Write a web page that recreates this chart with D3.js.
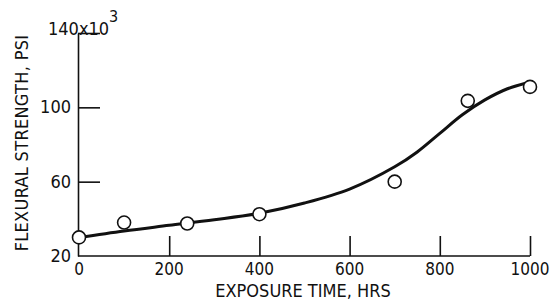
<!DOCTYPE html>
<html>
<head>
<meta charset="utf-8">
<script src="https://cdn.jsdelivr.net/npm/d3@7"></script>
<style>
  body { margin: 0; background: #fff; }
  svg text { font-family: "Liberation Sans Narrow", "DejaVu Sans Condensed", "Liberation Sans", sans-serif; fill: #111; }
</style>
</head>
<body>
<svg width="553" height="305"></svg>
<script>
"use strict";

// measured points (hrs, psi x 10^3)
const pointHours = [0, 100, 240, 400, 700, 862, 1000];
const pointStrength = [30, 38, 37.5, 42.5, 60, 103.5, 111];

// fitted curve
const curveHours = [0, 100, 200, 300, 400, 500, 600, 700, 750, 800, 850, 900, 950, 990];
const curveStrength = [30, 33.5, 36.5, 39.5, 43, 48.5, 56, 68, 76, 86, 96, 104, 110, 113];

const xTicks = [0, 200, 400, 600, 800, 1000];
const yTicks = [20, 60, 100, 140];

const xLabel = "EXPOSURE TIME, HRS";
const yLabel = "FLEXURAL STRENGTH, PSI";

const chart = d3.select("body svg");

const plotLeft = 78, plotRight = 530, plotTop = 33, plotBottom = 256;

let scaleX = d3.scaleLinear().domain([0, 1000]).range([plotLeft + 1, plotRight]);
let scaleY = d3.scaleLinear().domain([20, 140]).range([plotBottom, plotTop]);

// x axis, ticks pointing up
chart.append("g")
  .attr("class", "x_axis")
  .attr("transform", `translate(0, ${plotBottom})`)
  .call(d3.axisBottom(scaleX).tickValues(xTicks.slice(1)).tickSize(-20).tickSizeOuter(0).tickFormat(""))
  .call(g => g.select(".domain").attr("d", `M${plotLeft},0H${plotRight}`));

// y axis, ticks pointing right
chart.append("g")
  .attr("class", "y_axis")
  .attr("transform", `translate(${plotLeft}, 0)`)
  .call(d3.axisLeft(scaleY).tickValues(yTicks.slice(1)).tickSize(-22).tickSizeOuter(0).tickFormat(""));

chart.selectAll(".domain, .tick line").attr("stroke", "#111").attr("stroke-width", 1.6);

// x tick labels
chart.append("g")
  .selectAll("text")
  .data(xTicks)
  .enter()
  .append("text")
  .attr("x", d => scaleX(d))
  .attr("y", plotBottom + 19)
  .attr("text-anchor", "middle")
  .attr("font-size", 17)
  .text(d => d);

// y tick labels
chart.append("g")
  .selectAll("text")
  .data(yTicks)
  .enter()
  .append("text")
  .attr("x", plotLeft - 7)
  .attr("y", d => scaleY(d) + 6)
  .attr("text-anchor", "end")
  .attr("font-size", 18)
  .text(d => d == 140 ? "" : d);

// 140x10^3
let topLabel = chart.append("text")
  .attr("x", 48)
  .attr("y", 35)
  .attr("font-size", 18);
topLabel.append("tspan").text("140x10");
topLabel.append("tspan").attr("dy", -13).attr("font-size", 16).text("3");

// axis titles
chart.append("text")
  .attr("x", 303)
  .attr("y", 297)
  .attr("text-anchor", "middle")
  .attr("font-size", 18)
  .text(xLabel);

chart.append("text")
  .attr("transform", `translate(28, ${143}) rotate(-90)`)
  .attr("text-anchor", "middle")
  .attr("font-size", 18)
  .attr("letter-spacing", 0.3)
  .text(yLabel);

// fitted curve
let line = d3.line()
  .x(d => scaleX(d[0]))
  .y(d => scaleY(d[1]))
  .curve(d3.curveCatmullRom);

chart.append("path")
  .datum(curveHours.map((h, i) => [h, curveStrength[i]]))
  .attr("d", line)
  .attr("fill", "none")
  .attr("stroke", "#111")
  .attr("stroke-width", 3);

// data points
chart.append("g")
  .selectAll("circle")
  .data(pointHours.map((h, i) => [h, pointStrength[i]]))
  .enter()
  .append("circle")
  .attr("cx", d => scaleX(d[0]))
  .attr("cy", d => scaleY(d[1]))
  .attr("r", 6.5)
  .attr("fill", "#fff")
  .attr("stroke", "#111")
  .attr("stroke-width", 1.6);
</script>
</body>
</html>
